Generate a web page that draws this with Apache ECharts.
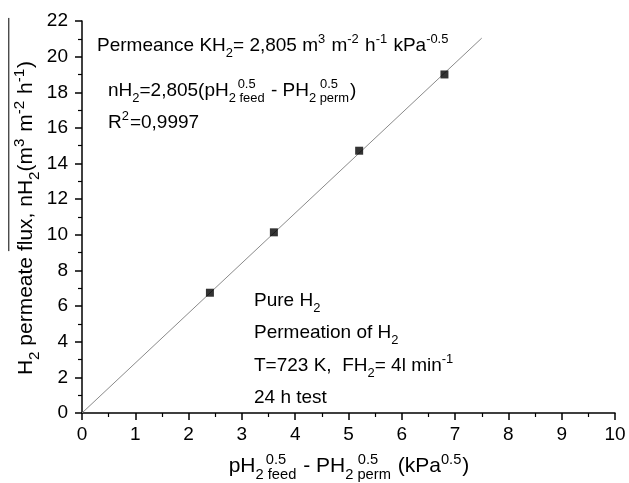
<!DOCTYPE html>
<html><head><meta charset="utf-8">
<script src="https://cdn.jsdelivr.net/npm/echarts@6/dist/echarts.min.js"></script>
<style>html,body{margin:0;padding:0;background:#fff}#c{width:629px;height:483px}</style>
</head><body><div id="c"></div>
<script>
// ---- data ----
const xTickValues = [0,1,2,3,4,5,6,7,8,9,10];
const yTickValues = [0,2,4,6,8,10,12,14,16,18,20,22];
const drivingForce = [2.4, 3.6, 5.2, 6.8];        // pH2feed^0.5 - pH2perm^0.5 (kPa^0.5)
const permeateFlux = [6.75, 10.14, 14.72, 19.0];  // nH2 (m3 m-2 h-1)
const fitLineX = [0, 7.5];
const fitLineY = [0, 21.04];

const FONT = '"Liberation Sans", Arial, Helvetica, sans-serif';
const cv = document.createElement('canvas').getContext('2d');
function tw(t, s){ cv.font = s + 'px ' + FONT; return cv.measureText(t).width; }

// build a line of text with sub/superscripts; baseline at local y=0
function richLine(segs, size, sr){
  sr = sr || 0.68;
  const ss = size * sr;
  const subOff = size * 0.30, supOff = -size * 0.42;
  let x = 0; const out = []; const marks = {};
  function put(t, s, base, xx){
    out.push({type:'text', x: xx, y: base - 0.35 * s,
      style:{text:t, font: s + 'px ' + FONT, fill:'#000', textAlign:'left', textVerticalAlign:'middle'}});
  }
  segs.forEach(g => {
    if (g[0] === 'n') { put(g[1], size, 0, x); x += tw(g[1], size); }
    else if (g[0] === 'b') { put(g[1], ss, subOff, x); x += tw(g[1], ss); }
    else if (g[0] === 'p') { put(g[1], ss, supOff, x); x += tw(g[1], ss) + 1; }
    else if (g[0] === 'bp') {
      const wb = tw(g[1], ss), wp = tw(g[2], ss), w = Math.max(wb, wp);
      put(g[1], ss, subOff, x + (w - wb) / 2);
      put(g[2], ss, supOff, x + (w - wp) / 2);
      x += w + 1;
    }
    else if (g[0] === 'm') { marks[g[1]] = x; }
  });
  return {children: out, width: x, marks: marks};
}

const graphics = [];
function addLine(segs, size, left, baseline, sr){
  const r = richLine(segs, size, sr);
  graphics.push({type:'group', x: left, y: baseline, children: r.children, silent:true});
  return r;
}

const A = 19;
addLine([['n','Permeance KH'],['b','2'],['n','= 2,805 m'],['p','3'],['n',' m'],['p','-2'],['n',' h'],['p','-1'],['n',' kPa'],['p','-0.5']], A, 97, 52);
addLine([['n','nH'],['b','2'],['n','=2,805(pH'],['bp','2 feed','0.5'],['n',' - PH'],['bp','2 perm','0.5'],['n',')']], A, 108, 97);
addLine([['n','R'],['p','2'],['n','=0,9997']], A, 108, 129);
addLine([['n','Pure H'],['b','2']], A, 254, 307);
addLine([['n','Permeation of H'],['b','2']], A, 254, 339);
addLine([['n','T=723 K,  FH'],['b','2'],['n','= 4l min'],['p','-1']], A, 254, 372);
addLine([['n','24 h test']], A, 254, 404);

// x-axis title (centred under plot)
const T = 21;
const xt = richLine([['n','pH'],['bp','2 feed','0.5'],['n',' - PH'],['bp','2 perm','0.5'],['n',' (kPa'],['p','0.5'],['n',')']], T, 0.7);
graphics.push({type:'group', x: 349 - xt.width/2, y: 474, children: xt.children, silent:true});

// y-axis title (rotated, reading upward) with overline
const TY = 21;
const yt = richLine([['n','H'],['b','2'],['n',' permeate '],['m','o'],['n','flux, nH'],['b','2'],['n','(m'],['p','3'],['n',' m'],['p','-2'],['n',' h'],['p','-1'],['n',')']], TY, 0.72);
yt.children.push({type:'line', shape:{x1: yt.marks.o, y1: -TY*1.2, x2: yt.width + 43, y2: -TY*1.2}, style:{stroke:'#000', lineWidth:1}});
graphics.push({type:'group', x: 34, y: 218 + yt.width/2, rotation: Math.PI/2, children: yt.children, silent:true});

const chart = echarts.init(document.getElementById('c'), null, {renderer:'canvas'});
const axisCommon = {
  type:'value',
  axisLine:{show:true, onZero:false, lineStyle:{color:'#000', width:1.5}},
  axisTick:{show:true, inside:false, length:7, lineStyle:{color:'#000', width:1.5}},
  minorTick:{show:true, splitNumber:2, length:4, lineStyle:{color:'#000', width:1.2}},
  splitLine:{show:false},
  axisLabel:{color:'#000', fontSize:19, fontFamily:FONT}
};
chart.setOption({
  animation:false,
  backgroundColor:'#fff',
  grid:{left:82, top:21, width:533, height:392, containLabel:false, outerBoundsMode:'none'},
  xAxis: Object.assign({}, axisCommon, {min:xTickValues[0], max:xTickValues[xTickValues.length-1], interval:1,
    axisLabel:Object.assign({}, axisCommon.axisLabel, {margin:12})}),
  yAxis: Object.assign({}, axisCommon, {min:yTickValues[0], max:yTickValues[yTickValues.length-1], interval:2,
    axisLabel:Object.assign({}, axisCommon.axisLabel, {margin:14})}),
  series:[
    {type:'line', data: fitLineX.map((x,i)=>[x, fitLineY[i]]), symbol:'none', silent:true,
     lineStyle:{color:'#8a8a8a', width:1}, z:2},
    {type:'scatter', data: drivingForce.map((x,i)=>[x, permeateFlux[i]]), symbol:'rect', symbolSize:8,
     itemStyle:{color:'#000'}, z:3}
  ],
  graphic: graphics
});
</script></body></html>
